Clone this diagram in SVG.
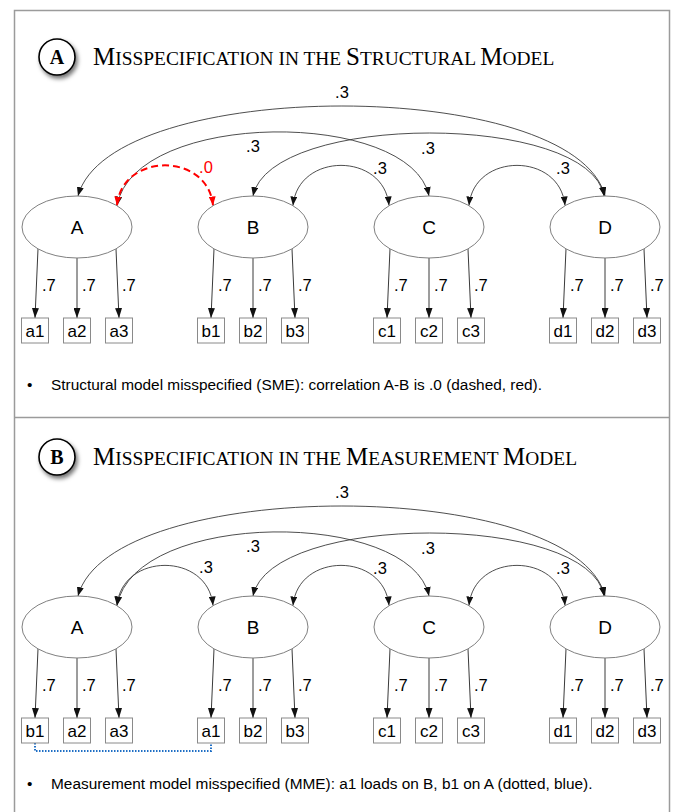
<svg xmlns="http://www.w3.org/2000/svg" width="676" height="812" viewBox="0 0 676 812">
  <style>
    .frame{fill:none;stroke:#9b9b9b;stroke-width:1.5}
    .lat{fill:#fff;stroke:#808080;stroke-width:1}
    .ind{fill:#fff;stroke:#8a8a8a;stroke-width:1}
    .sans{font-family:"Liberation Sans",Arial,sans-serif;fill:#000}
    .lbl-lat{font-size:19px;text-anchor:middle}
    .lbl-ind{font-size:17px;text-anchor:middle}
    .num{font-size:16.5px}
    .mid{text-anchor:middle}
    .cov{fill:none;stroke:#3a3a3a;stroke-width:0.9;marker-start:url(#hs);marker-end:url(#hs)}
    .cov-red{fill:none;stroke:#ff0000;stroke-width:2;stroke-dasharray:7 4;marker-start:url(#hr);marker-end:url(#hr)}
    .load{fill:none;stroke:#3a3a3a;stroke-width:1;marker-end:url(#hl)}
    .xload{fill:none;stroke:#1f6fc5;stroke-width:2;stroke-dasharray:1.5 1.5}
    .title{font-family:"Liberation Serif","Times New Roman",serif;fill:#000}
    .badge{fill:#fff;stroke:#000;stroke-width:1.6;filter:url(#shadow)}
    .bullet{font-size:15.4px}
  </style>
  <defs>
    <marker id="hs" viewBox="0 0 9 7" refX="9" refY="3.5" markerWidth="9" markerHeight="7" markerUnits="userSpaceOnUse" orient="auto-start-reverse">
      <path d="M0,0 L9,3.5 L0,7 z" fill="#111"/>
    </marker>
    <marker id="hr" viewBox="0 0 9 7" refX="9" refY="3.5" markerWidth="9" markerHeight="7" markerUnits="userSpaceOnUse" orient="auto-start-reverse">
      <path d="M0,0 L9,3.5 L0,7 z" fill="#ff0000"/>
    </marker>
    <marker id="hl" viewBox="0 0 10 7" refX="10" refY="3.5" markerWidth="10" markerHeight="7" markerUnits="userSpaceOnUse" orient="auto">
      <path d="M0,0 L10,3.5 L0,7 z" fill="#111"/>
    </marker>
    <filter id="shadow" x="-40%" y="-40%" width="190%" height="190%">
      <feDropShadow dx="2" dy="3" stdDeviation="2" flood-color="#000" flood-opacity="0.55"/>
    </filter>
  </defs>

  <!-- outer frame and panel divider -->
  <g id="frame">
    <path class="frame" d="M14.5,812 V10.5 H669.5 V812"/>
    <path class="frame" d="M14.5,417.5 H669.5"/>
  </g>

  <!-- ========== Panel A ========== -->
  <g id="panelA">
    <g id="A-title">
      <circle class="badge" cx="57" cy="57" r="18"/>
      <text class="title" x="57" y="64" font-size="20" font-weight="bold" text-anchor="middle">A</text>
      <text class="title" x="93" y="65"><tspan font-size="25">M</tspan><tspan font-size="19.4">ISSPECIFICATION IN THE </tspan><tspan font-size="25">S</tspan><tspan font-size="19.4">TRUCTURAL </tspan><tspan font-size="25">M</tspan><tspan font-size="19.4">ODEL</tspan></text>
    </g>

    <g id="A-connectors">
      <!-- factor correlations -->
      <path class="cov" d="M78,196 C110,76 574,76 605,196"/>
      <path class="cov" d="M117,205.5 C135,109 411,109 429,196"/>
      <path class="cov" d="M253,196 C270,112 590,112 604,196"/>
      <path class="cov" d="M293,205.5 C298,152 384,152 389,205.5"/>
      <path class="cov" d="M469,205.5 C474,152 560,152 565,205.5"/>
      <path class="cov-red" d="M117,205.5 C122,152 208,152 213,205.5"/>
      <!-- loadings -->
      <path class="load" d="M38,249 L35,318"/>
      <path class="load" d="M77,258 L77,318"/>
      <path class="load" d="M116,249 L119,318"/>
      <path class="load" d="M214,249 L211,318"/>
      <path class="load" d="M253,258 L253,318"/>
      <path class="load" d="M292,249 L295,318"/>
      <path class="load" d="M390,249 L387,318"/>
      <path class="load" d="M429,258 L429,318"/>
      <path class="load" d="M468,249 L471,318"/>
      <path class="load" d="M566,249 L563,318"/>
      <path class="load" d="M605,258 L605,318"/>
      <path class="load" d="M644,249 L647,318"/>
      <!-- path values -->
      <g class="sans num">
        <text class="mid" x="342" y="98">.3</text>
        <text class="mid" x="253" y="152">.3</text>
        <text class="mid" x="428" y="154">.3</text>
        <text class="mid" x="380" y="174">.3</text>
        <text class="mid" x="563" y="174">.3</text>
        <text class="mid" x="206" y="173" fill="#ff0000">.0</text>
        <text x="42" y="291">.7</text><text x="82" y="291">.7</text><text x="122" y="291">.7</text>
        <text x="218" y="291">.7</text><text x="258" y="291">.7</text><text x="298" y="291">.7</text>
        <text x="394" y="291">.7</text><text x="434" y="291">.7</text><text x="474" y="291">.7</text>
        <text x="570" y="291">.7</text><text x="610" y="291">.7</text><text x="650" y="291">.7</text>
      </g>
    </g>

    <g id="A-lat-A"><ellipse class="lat" cx="77" cy="227" rx="55" ry="31"/><text class="sans lbl-lat" x="77" y="234">A</text></g>
    <g id="A-lat-B"><ellipse class="lat" cx="253" cy="227" rx="55" ry="31"/><text class="sans lbl-lat" x="253" y="234">B</text></g>
    <g id="A-lat-C"><ellipse class="lat" cx="429" cy="227" rx="55" ry="31"/><text class="sans lbl-lat" x="429" y="234">C</text></g>
    <g id="A-lat-D"><ellipse class="lat" cx="605" cy="227" rx="55" ry="31"/><text class="sans lbl-lat" x="605" y="234">D</text></g>

    <g id="A-ind-a1"><rect class="ind" x="21.5" y="318" width="27" height="25"/><text class="sans lbl-ind" x="35" y="337">a1</text></g>
    <g id="A-ind-a2"><rect class="ind" x="63.5" y="318" width="27" height="25"/><text class="sans lbl-ind" x="77" y="337">a2</text></g>
    <g id="A-ind-a3"><rect class="ind" x="105.5" y="318" width="27" height="25"/><text class="sans lbl-ind" x="119" y="337">a3</text></g>
    <g id="A-ind-b1"><rect class="ind" x="197.5" y="318" width="27" height="25"/><text class="sans lbl-ind" x="211" y="337">b1</text></g>
    <g id="A-ind-b2"><rect class="ind" x="239.5" y="318" width="27" height="25"/><text class="sans lbl-ind" x="253" y="337">b2</text></g>
    <g id="A-ind-b3"><rect class="ind" x="281.5" y="318" width="27" height="25"/><text class="sans lbl-ind" x="295" y="337">b3</text></g>
    <g id="A-ind-c1"><rect class="ind" x="373.5" y="318" width="27" height="25"/><text class="sans lbl-ind" x="387" y="337">c1</text></g>
    <g id="A-ind-c2"><rect class="ind" x="415.5" y="318" width="27" height="25"/><text class="sans lbl-ind" x="429" y="337">c2</text></g>
    <g id="A-ind-c3"><rect class="ind" x="457.5" y="318" width="27" height="25"/><text class="sans lbl-ind" x="471" y="337">c3</text></g>
    <g id="A-ind-d1"><rect class="ind" x="549.5" y="318" width="27" height="25"/><text class="sans lbl-ind" x="563" y="337">d1</text></g>
    <g id="A-ind-d2"><rect class="ind" x="591.5" y="318" width="27" height="25"/><text class="sans lbl-ind" x="605" y="337">d2</text></g>
    <g id="A-ind-d3"><rect class="ind" x="633.5" y="318" width="27" height="25"/><text class="sans lbl-ind" x="647" y="337">d3</text></g>

    <g id="A-note" class="sans bullet">
      <text x="27" y="390">•</text>
      <text x="51" y="390">Structural model misspecified (SME): correlation A-B is .0 (dashed, red).</text>
    </g>
  </g>

  <!-- ========== Panel B ========== -->
  <g id="panelB" transform="translate(0,400)">
    <g id="B-title">
      <circle class="badge" cx="57" cy="57" r="18"/>
      <text class="title" x="57" y="64" font-size="20" font-weight="bold" text-anchor="middle">B</text>
      <text class="title" x="93" y="65"><tspan font-size="25">M</tspan><tspan font-size="19.4">ISSPECIFICATION IN THE </tspan><tspan font-size="25">M</tspan><tspan font-size="19.4">EASUREMENT </tspan><tspan font-size="25">M</tspan><tspan font-size="19.4">ODEL</tspan></text>
    </g>

    <g id="B-connectors">
      <!-- factor correlations -->
      <path class="cov" d="M78,196 C110,76 574,76 605,196"/>
      <path class="cov" d="M117,205.5 C135,109 411,109 429,196"/>
      <path class="cov" d="M253,196 C270,112 590,112 604,196"/>
      <path class="cov" d="M293,205.5 C298,152 384,152 389,205.5"/>
      <path class="cov" d="M469,205.5 C474,152 560,152 565,205.5"/>
      <path class="cov" d="M117,205.5 C122,152 208,152 213,205.5"/>
      <!-- loadings -->
      <path class="load" d="M38,249 L35,318"/>
      <path class="load" d="M77,258 L77,318"/>
      <path class="load" d="M116,249 L119,318"/>
      <path class="load" d="M214,249 L211,318"/>
      <path class="load" d="M253,258 L253,318"/>
      <path class="load" d="M292,249 L295,318"/>
      <path class="load" d="M390,249 L387,318"/>
      <path class="load" d="M429,258 L429,318"/>
      <path class="load" d="M468,249 L471,318"/>
      <path class="load" d="M566,249 L563,318"/>
      <path class="load" d="M605,258 L605,318"/>
      <path class="load" d="M644,249 L647,318"/>
      <!-- swapped indicators a1 / b1 -->
      <path class="xload" d="M35,343 V351 H211 V343"/>
      <!-- path values -->
      <g class="sans num">
        <text class="mid" x="342" y="98">.3</text>
        <text class="mid" x="253" y="152">.3</text>
        <text class="mid" x="428" y="154">.3</text>
        <text class="mid" x="380" y="174">.3</text>
        <text class="mid" x="563" y="174">.3</text>
        <text class="mid" x="206" y="173">.3</text>
        <text x="42" y="291">.7</text><text x="82" y="291">.7</text><text x="122" y="291">.7</text>
        <text x="218" y="291">.7</text><text x="258" y="291">.7</text><text x="298" y="291">.7</text>
        <text x="394" y="291">.7</text><text x="434" y="291">.7</text><text x="474" y="291">.7</text>
        <text x="570" y="291">.7</text><text x="610" y="291">.7</text><text x="650" y="291">.7</text>
      </g>
    </g>

    <g id="B-lat-A"><ellipse class="lat" cx="77" cy="227" rx="55" ry="31"/><text class="sans lbl-lat" x="77" y="234">A</text></g>
    <g id="B-lat-B"><ellipse class="lat" cx="253" cy="227" rx="55" ry="31"/><text class="sans lbl-lat" x="253" y="234">B</text></g>
    <g id="B-lat-C"><ellipse class="lat" cx="429" cy="227" rx="55" ry="31"/><text class="sans lbl-lat" x="429" y="234">C</text></g>
    <g id="B-lat-D"><ellipse class="lat" cx="605" cy="227" rx="55" ry="31"/><text class="sans lbl-lat" x="605" y="234">D</text></g>

    <g id="B-ind-b1"><rect class="ind" x="21.5" y="318" width="27" height="25"/><text class="sans lbl-ind" x="35" y="337">b1</text></g>
    <g id="B-ind-a2"><rect class="ind" x="63.5" y="318" width="27" height="25"/><text class="sans lbl-ind" x="77" y="337">a2</text></g>
    <g id="B-ind-a3"><rect class="ind" x="105.5" y="318" width="27" height="25"/><text class="sans lbl-ind" x="119" y="337">a3</text></g>
    <g id="B-ind-a1"><rect class="ind" x="197.5" y="318" width="27" height="25"/><text class="sans lbl-ind" x="211" y="337">a1</text></g>
    <g id="B-ind-b2"><rect class="ind" x="239.5" y="318" width="27" height="25"/><text class="sans lbl-ind" x="253" y="337">b2</text></g>
    <g id="B-ind-b3"><rect class="ind" x="281.5" y="318" width="27" height="25"/><text class="sans lbl-ind" x="295" y="337">b3</text></g>
    <g id="B-ind-c1"><rect class="ind" x="373.5" y="318" width="27" height="25"/><text class="sans lbl-ind" x="387" y="337">c1</text></g>
    <g id="B-ind-c2"><rect class="ind" x="415.5" y="318" width="27" height="25"/><text class="sans lbl-ind" x="429" y="337">c2</text></g>
    <g id="B-ind-c3"><rect class="ind" x="457.5" y="318" width="27" height="25"/><text class="sans lbl-ind" x="471" y="337">c3</text></g>
    <g id="B-ind-d1"><rect class="ind" x="549.5" y="318" width="27" height="25"/><text class="sans lbl-ind" x="563" y="337">d1</text></g>
    <g id="B-ind-d2"><rect class="ind" x="591.5" y="318" width="27" height="25"/><text class="sans lbl-ind" x="605" y="337">d2</text></g>
    <g id="B-ind-d3"><rect class="ind" x="633.5" y="318" width="27" height="25"/><text class="sans lbl-ind" x="647" y="337">d3</text></g>

    <g id="B-note" class="sans bullet">
      <text x="27" y="389">•</text>
      <text x="51" y="389">Measurement model misspecified (MME): a1 loads on B, b1 on A (dotted, blue).</text>
    </g>
  </g>
</svg>
